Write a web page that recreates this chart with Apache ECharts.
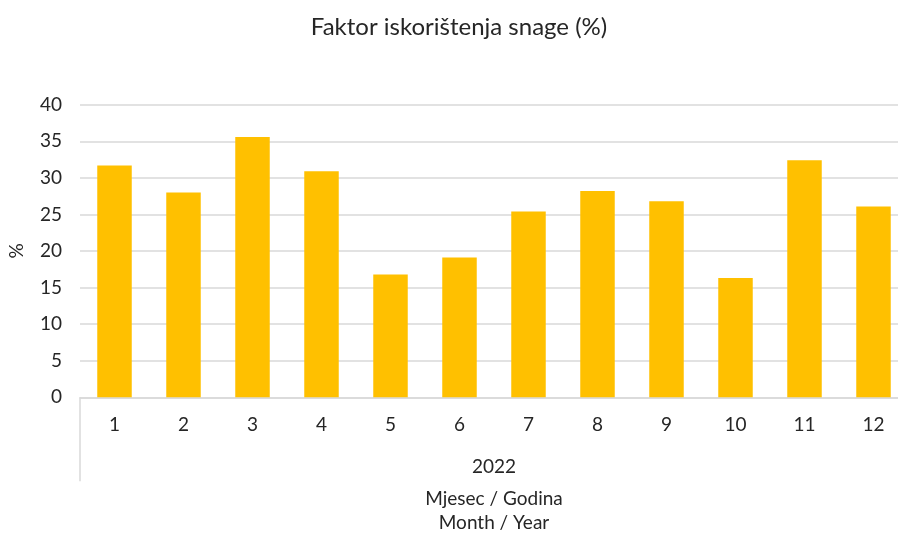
<!DOCTYPE html>
<html>
<head>
<meta charset="utf-8">
<script src="https://cdn.jsdelivr.net/npm/echarts@6/dist/echarts.min.js"></script>
<style>html,body{margin:0;padding:0;background:#fff}#c{width:898px;height:533px}</style>
</head>
<body>
<div id="c"></div>
<script>
const months = ['1','2','3','4','5','6','7','8','9','10','11','12'];
const years = ['2022'];
const values = [31.7, 28.0, 35.6, 30.9, 16.8, 19.1, 25.4, 28.2, 26.8, 16.3, 32.4, 26.1];
const yTicks = [0, 5, 10, 15, 20, 25, 30, 35, 40];
const titleText = 'Faktor iskorištenja snage (%)';
const xTitle = 'Mjesec / Godina\nMonth / Year';
const yTitle = '%';

const FONT = 'Lato, "Open Sans", sans-serif';
const TXT = '#262626';
const chart = echarts.init(document.getElementById('c'), null, {renderer: 'canvas'});
chart.setOption({
  backgroundColor: '#fff',
  animation: false,
  title: {
    text: titleText, left: 454, top: 10, textAlign: 'center',
    textStyle: {fontFamily: FONT, fontSize: 24, fontWeight: 'normal', color: TXT}
  },
  grid: {left: 80, right: -10, top: 104.7, bottom: 135.7, containLabel: false, outerBoundsMode: 'none'},
  xAxis: [{
    type: 'category', data: months, position: 'bottom',
    axisLine: {lineStyle: {color: '#d9d9d9', width: 1.5}},
    axisTick: {show: true, length: 84, lineStyle: {color: '#d9d9d9', width: 1.5},
      interval: function (idx) { return idx === 0; }},
    axisLabel: {fontFamily: FONT, fontSize: 19, color: TXT, margin: 18}
  }, {
    type: 'category', data: years, position: 'bottom', offset: 0,
    axisLine: {show: false}, axisTick: {show: false},
    axisLabel: {fontFamily: FONT, fontSize: 19, color: TXT, margin: 60},
    name: xTitle, nameLocation: 'middle', nameGap: 90,
    nameTextStyle: {fontFamily: FONT, fontSize: 19, color: TXT, lineHeight: 24}
  }],
  yAxis: {
    type: 'value', min: 0, max: 40, interval: 5,
    axisLine: {show: false}, axisTick: {show: false},
    splitLine: {lineStyle: {color: '#d9d9d9', width: 1.5}},
    axisLabel: {fontFamily: FONT, fontSize: 19, color: TXT, margin: 18,
      formatter: function (v) { return yTicks.indexOf(v) >= 0 ? String(v) : ''; }},
    name: yTitle, nameLocation: 'middle', nameGap: 54, nameRotate: 90,
    nameTextStyle: {fontFamily: FONT, fontSize: 19, color: TXT}
  },
  series: [{
    type: 'bar', data: values, xAxisIndex: 0, barWidth: '50%',
    itemStyle: {color: '#FFC000'}
  }]
});
</script>
</body>
</html>
